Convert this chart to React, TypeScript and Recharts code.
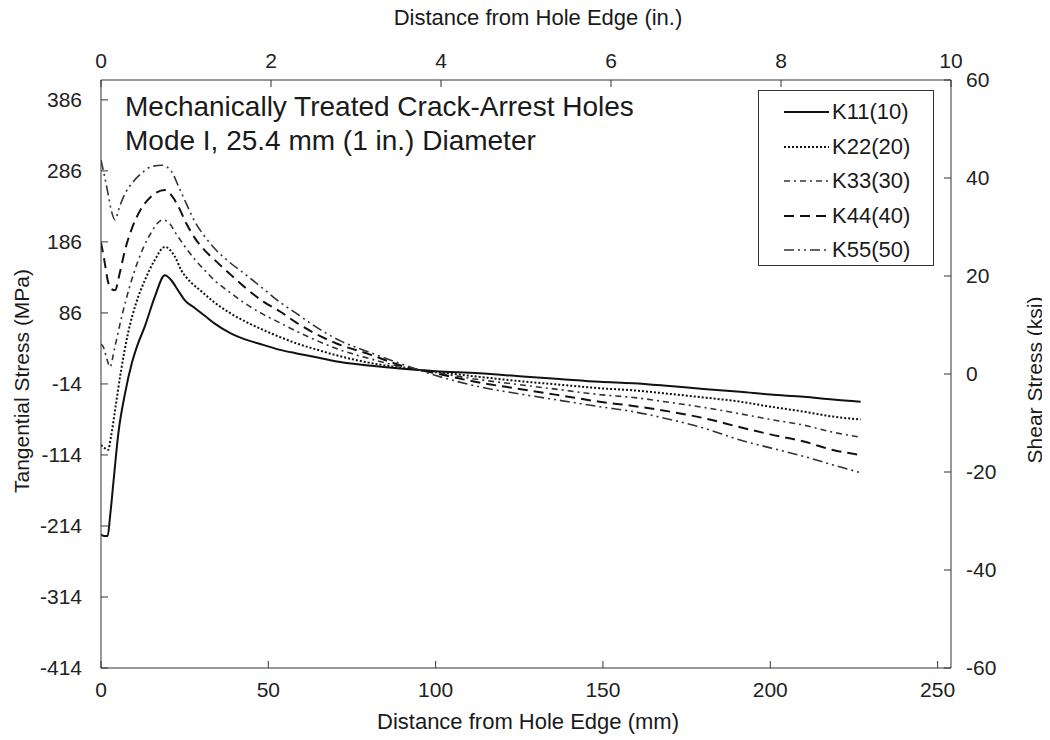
import React from 'react';
import { LineChart, Line, XAxis, YAxis } from 'recharts';

const FONT = '"Liberation Sans", Arial, Helvetica, sans-serif';

// Tick values
const mmTicks = [0, 50, 100, 150, 200, 250];
const inTicks = [0, 2, 4, 6, 8, 10];
const mpaTicks = [-414, -314, -214, -114, -14, 86, 186, 286, 386];
const ksiTicks = [-60, -40, -20, 0, 20, 40, 60];
const MM_PER_IN = 25.4;

// Series: distance from hole edge (mm) and tangential stress (MPa)
const k11X = [0, 1, 2, 2.7, 3.7, 5.2, 7.2, 9.2, 11, 13.1, 16.1, 19.1, 21, 23, 25, 28, 31, 34, 38.5, 43.5, 48.5, 53.5, 58.5, 64, 70, 80, 91, 100, 113, 125, 137, 149, 159, 170, 180, 191, 200, 210, 218.7, 227];
const k11Y = [-226, -228, -228, -201, -153, -83, -27, 15, 42, 67, 109, 139, 132, 118, 104, 93, 82, 71, 58, 48, 41, 34, 29, 24, 18, 12, 7, 4, 1, -3, -7, -11, -13, -17, -21, -25, -29, -32, -36, -39];

const k22X = [0, 1, 2.1, 3, 4.2, 6, 8.1, 10.5, 13.1, 16, 19.1, 22.1, 24, 27.1, 29.6, 34.1, 38.5, 43.5, 48.5, 53.5, 58.5, 64, 71.4, 80, 91, 100, 113, 125, 137, 149, 159, 170, 180, 191, 200, 210, 218.7, 227];
const k22Y = [-100, -104, -107, -88, -51, 5, 58, 100, 132, 160, 179, 165, 146, 128, 118, 100, 86, 73, 62, 52, 43, 35, 25, 16, 8, 3, -4, -10, -15, -20, -23, -28, -33, -39, -46, -53, -60, -64];

const k33X = [0, 0.7, 1.7, 2.7, 4, 6.2, 8.5, 11.2, 14.5, 18.4, 20.5, 22.1, 25, 28.1, 31.6, 34.1, 38.5, 43.5, 48.5, 53.5, 58.5, 64, 71.4, 80, 91, 100, 113, 125, 137, 149, 159, 170, 180, 191, 200, 210, 218.7, 227];
const k33Y = [42, 38, 22, 10, 35, 81, 122, 161, 195, 217, 212, 200, 180, 161, 143, 131, 115, 98, 84, 72, 60, 48, 34, 22, 9, 2, -8, -15, -22, -29, -33, -40, -47, -56, -64, -72, -82, -89];

const k44X = [0, 1, 2.1, 3, 4.2, 5.5, 7.2, 9, 11.2, 15, 19.1, 21, 23.1, 25.5, 28.1, 31, 34.1, 38.5, 43.5, 48.5, 53.5, 58.5, 64, 70.4, 80, 91, 100, 113, 125, 137, 149, 159, 170, 180, 191, 200, 210, 218.7, 227];
const k44Y = [185, 160, 130, 120, 118, 140, 175, 202, 226, 250, 259, 252, 236, 212, 191, 174, 160, 141, 120, 102, 88, 72, 57, 43, 28, 10, 1, -12, -21, -30, -39, -45, -53, -62, -75, -85, -95, -107, -114];

const k55X = [0, 1, 2.1, 3, 4.2, 5.5, 7.2, 9.5, 12.2, 15, 18.2, 21.1, 23, 25.1, 28, 31.1, 34.1, 38.5, 43.5, 48.5, 53.5, 58.5, 64, 71.4, 80, 91, 100, 113, 125, 137, 149, 159, 170, 180, 191, 200, 210, 218.7, 227];
const k55Y = [301, 280, 254, 232, 217, 235, 254, 270, 283, 292, 294, 285, 266, 244, 215, 193, 176, 157, 139, 120, 101, 85, 67, 47, 31, 12, -2, -18, -28, -37, -46, -53, -64, -76, -93, -104, -116, -128, -139];

const seriesNames = ['K11(10)', 'K22(20)', 'K33(30)', 'K44(40)', 'K55(50)'];

const toPoints = (xs: number[], ys: number[]) => xs.map((x, i) => ({ x, y: ys[i] }));

const series = [
  { name: seriesNames[0], data: toPoints(k11X, k11Y), dash: undefined as string | undefined, width: 2, color: '#111' },
  { name: seriesNames[1], data: toPoints(k22X, k22Y), dash: '2 2', width: 2, color: '#111' },
  { name: seriesNames[2], data: toPoints(k33X, k33Y), dash: '6 4 2 4', width: 1.6, color: '#333' },
  { name: seriesNames[3], data: toPoints(k44X, k44Y), dash: '10 6', width: 2, color: '#111' },
  { name: seriesNames[4], data: toPoints(k55X, k55Y), dash: '10 4 2 4 2 4', width: 1.6, color: '#333' },
];

// Same K11 curve expressed in inches, used only to bind the top (inch) axis
const k11Inches = k11X.map((x, i) => ({ x: x / MM_PER_IN, y: k11Y[i] }));

const tickStyle = { fill: '#222', fontSize: 21, fontFamily: FONT };
const axisColor = '#333';

export default function App() {
  return (
    <div style={{ position: 'relative', width: 1040, height: 730, fontFamily: FONT, color: '#1a1a1a' }}>
      <LineChart width={1040} height={730} margin={{ top: 32, right: 37, bottom: 30, left: 33 }}>
        <XAxis
          xAxisId="mm"
          dataKey="x"
          type="number"
          orientation="bottom"
          domain={[0, 254]}
          ticks={mmTicks}
          interval={0}
          allowDataOverflow
          height={40}
          tickSize={-7}
          tickMargin={21}
          stroke={axisColor}
          tick={tickStyle}
        />
        <XAxis
          xAxisId="in"
          dataKey="x"
          type="number"
          orientation="top"
          domain={[0, 10]}
          ticks={inTicks}
          interval={0}
          allowDataOverflow
          height={40}
          tickSize={-7}
          tickMargin={19}
          stroke={axisColor}
          tick={tickStyle}
        />
        <YAxis
          yAxisId="mpa"
          type="number"
          orientation="left"
          domain={[-414, 414]}
          ticks={mpaTicks}
          interval={0}
          allowDataOverflow
          width={60}
          tickSize={-7}
          tickMargin={26}
          stroke={axisColor}
          tick={tickStyle}
        />
        <YAxis
          yAxisId="ksi"
          type="number"
          orientation="right"
          domain={[-60, 60]}
          ticks={ksiTicks}
          interval={0}
          allowDataOverflow
          width={60}
          tickSize={-7}
          tickMargin={22}
          stroke={axisColor}
          tick={tickStyle}
        />
        <Line
          xAxisId="in"
          yAxisId="mpa"
          data={k11Inches}
          dataKey="y"
          type="monotone"
          stroke="transparent"
          strokeOpacity={0}
          dot={false}
          activeDot={false}
          legendType="none"
          isAnimationActive={false}
        />
        {series.map((s) => (
          <Line
            key={s.name}
            name={s.name}
            xAxisId="mm"
            yAxisId="mpa"
            data={s.data}
            dataKey="y"
            type="monotone"
            stroke={s.color}
            strokeWidth={s.width}
            strokeDasharray={s.dash}
            dot={false}
            activeDot={false}
            isAnimationActive={false}
          />
        ))}
      </LineChart>

      {/* Axis titles */}
      <div style={{ position: 'absolute', left: 530, top: 10, transform: 'translate(-50%,-50%)', fontSize: 22, whiteSpace: 'nowrap' }}>
        Distance from Hole Edge (in.)
      </div>
      <div style={{ position: 'absolute', left: 520, top: 714, transform: 'translate(-50%,-50%)', fontSize: 22, whiteSpace: 'nowrap' }}>
        Distance from Hole Edge (mm)
      </div>
      <div style={{ position: 'absolute', left: 14, top: 373, transform: 'translate(-50%,-50%) rotate(-90deg)', fontSize: 21, whiteSpace: 'nowrap' }}>
        Tangential Stress (MPa)
      </div>
      <div style={{ position: 'absolute', left: 1027, top: 372, transform: 'translate(-50%,-50%) rotate(-90deg)', fontSize: 21, whiteSpace: 'nowrap' }}>
        Shear Stress (ksi)
      </div>

      {/* Title */}
      <div style={{ position: 'absolute', left: 117, top: 82, fontSize: 28, lineHeight: '34px', whiteSpace: 'nowrap' }}>
        <div>Mechanically Treated Crack-Arrest Holes</div>
        <div>Mode I, 25.4 mm (1 in.) Diameter</div>
      </div>

      {/* Legend */}
      <div style={{ position: 'absolute', left: 750, top: 82, width: 176, height: 176, border: '1.5px solid #333', boxSizing: 'border-box', background: '#fff' }}>
        {series.map((s, i) => (
          <div key={s.name} style={{ position: 'absolute', left: 0, top: 21 + i * 34.5, transform: 'translateY(-50%)', display: 'flex', alignItems: 'center', whiteSpace: 'nowrap' }}>
            <svg width={72} height={10} style={{ display: 'block' }}>
              <line x1={25} y1={5} x2={70} y2={5} stroke={s.color} strokeWidth={s.width} strokeDasharray={s.dash} />
            </svg>
            <span style={{ fontSize: 22, marginLeft: 1 }}>{s.name}</span>
          </div>
        ))}
      </div>
    </div>
  );
}
